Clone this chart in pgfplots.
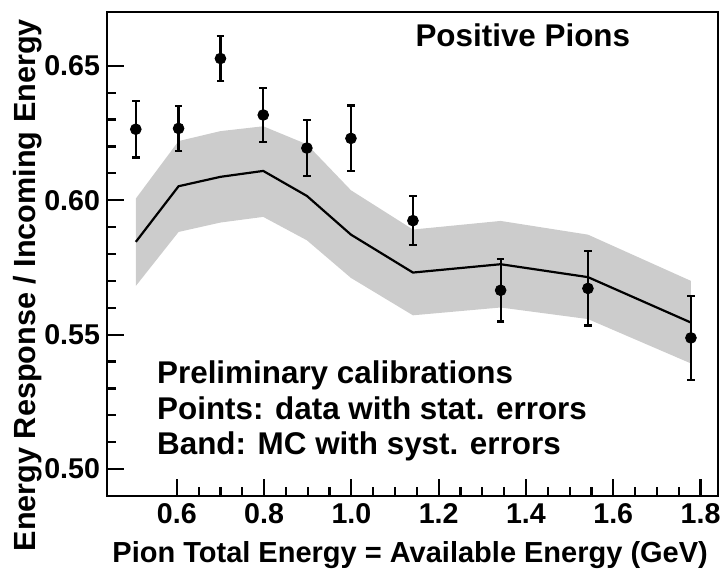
\documentclass[border=0pt]{standalone}
\usepackage{pgfplots}
\pgfplotsset{compat=1.18}
\usepackage{pgfplotstable}
\usepgfplotslibrary{fillbetween}
\usepackage{fontspec}
\setmainfont{Liberation Sans}
\definecolor{bandgray}{RGB}{204,204,204}

% data points (stat. errors)
\pgfplotstableread{
x      y       ey
0.506  0.6264  0.0105
0.604  0.6267  0.0083
0.700  0.6527  0.0085
0.798  0.6317  0.0100
0.898  0.6194  0.0105
0.999  0.6230  0.0122
1.141  0.5924  0.0092
1.342  0.5665  0.0116
1.542  0.5672  0.0138
1.778  0.5488  0.0157
}\datatable

% MC with syst. band
\pgfplotstableread{
x      mid     up      lo
0.506  0.5845  0.6006  0.5681
0.604  0.6052  0.6220  0.5882
0.700  0.6087  0.6257  0.5917
0.798  0.6109  0.6275  0.5938
0.898  0.6016  0.6208  0.5851
0.999  0.5872  0.6037  0.5711
1.141  0.5731  0.5891  0.5572
1.342  0.5762  0.5923  0.5601
1.542  0.5714  0.5872  0.5558
1.778  0.5545  0.5700  0.5393
}\mctable

\begin{document}
\begin{tikzpicture}
\begin{axis}[
    scale only axis,
    width=305.5pt, height=242pt,
    xmin=0.44, xmax=1.84,
    ymin=0.49, ymax=0.67,
    xtick={0.6,0.8,1.0,1.2,1.4,1.6,1.8},
    ytick={0.50,0.55,0.60,0.65},
    minor x tick num=3,
    minor y tick num=4,
    tick pos=left,
    major tick length=8.5pt,
    minor tick length=4.5pt,
    axis line style={line width=1.2pt},
    every tick/.style={black, line width=1.1pt},
    /pgf/number format/assume math mode=true,
    xticklabel style={font=\fontsize{14.3}{16}\selectfont\bfseries,
        anchor=base, yshift=-14pt,
        /pgf/number format/fixed, /pgf/number format/fixed zerofill,
        /pgf/number format/precision=1},
    yticklabel style={font=\fontsize{14.3}{16}\selectfont\bfseries,
        /pgf/number format/fixed, /pgf/number format/fixed zerofill,
        /pgf/number format/precision=2},
    xlabel={Pion Total Energy = Available Energy (GeV)},
    ylabel={Energy Response / Incoming Energy},
    xlabel style={font=\fontsize{14.5}{17}\selectfont\bfseries,
        at={(axis description cs:0.995,-0.1384)}, anchor=base east},
    ylabel style={font=\fontsize{15.3}{17}\selectfont\bfseries,
        at={(axis description cs:-0.1178,1)}, anchor=base east},
]
% systematic band
\addplot[name path=up, draw=none, forget plot] table[x=x, y=up] {\mctable};
\addplot[name path=lo, draw=none, forget plot] table[x=x, y=lo] {\mctable};
\addplot[bandgray, draw=none] fill between[of=up and lo];
% MC central value
\addplot[black, line width=1.1pt, mark=none] table[x=x, y=mid] {\mctable};
% data
\addplot[black, only marks, mark=*, mark size=2.7pt,
    error bars/.cd, y dir=both, y explicit,
    error bar style={line width=1.1pt},
    error mark options={black, rotate=90, mark size=1.9pt, line width=1.1pt}]
    table[x=x, y=y, y error=ey] {\datatable};

\node[anchor=base west, font=\fontsize{15.7}{18}\selectfont\bfseries, inner sep=0pt]
    at (axis cs:1.146,0.6571) {Positive Pions};
\node[anchor=base west, font=\fontsize{15.7}{18}\selectfont\bfseries, inner sep=0pt]
    at (axis cs:0.554,0.5320) {Preliminary calibrations};
\node[anchor=base west, font=\fontsize{15.7}{18}\selectfont\bfseries, inner sep=0pt]
    at (axis cs:0.554,0.5183) {Points: data with stat. errors};
\node[anchor=base west, font=\fontsize{15.7}{18}\selectfont\bfseries, inner sep=0pt]
    at (axis cs:0.554,0.5053) {Band: MC with syst. errors};
\end{axis}
\pgfresetboundingbox
\useasboundingbox (-53.5pt,-36.5pt) rectangle (306.5pt,248pt);
\end{tikzpicture}
\end{document}
